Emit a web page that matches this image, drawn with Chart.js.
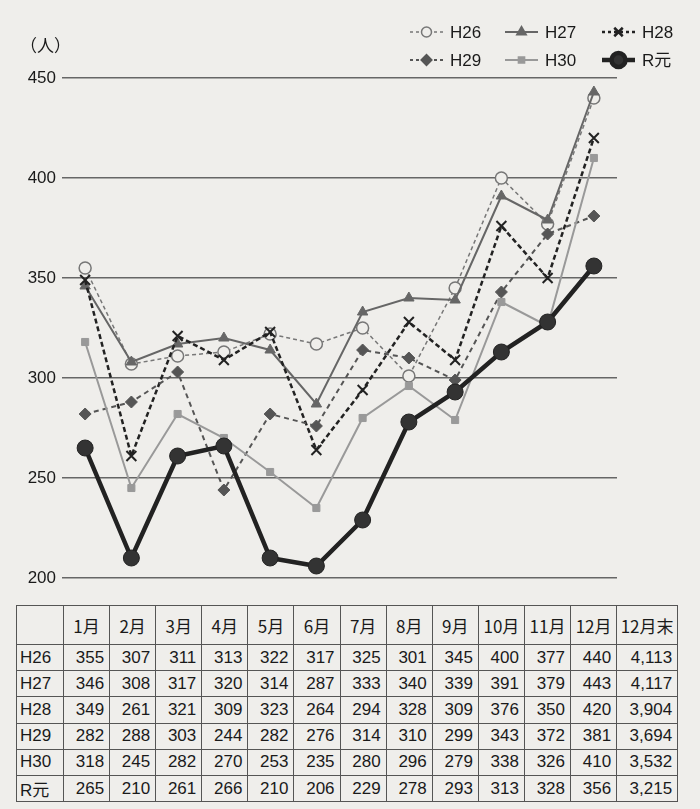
<!DOCTYPE html>
<html>
<head>
<meta charset="utf-8">
<script src="https://cdn.jsdelivr.net/npm/chart.js@4"></script>
<style>
  body { margin: 0; background: #efeeeb; }
  #wrap { position: relative; width: 700px; height: 809px; }
  #chartBox { position: absolute; left: 0; top: 0; width: 700px; height: 605px; }
  #dataTable {
    position: absolute; left: 16px; top: 605px;
    border-collapse: collapse; table-layout: fixed;
    font-family: "Liberation Sans", Arial, sans-serif; font-size: 17px; color: #1a1a1a;
  }
  #dataTable td, #dataTable th {
    border: 1.5px solid #555; padding: 0 5px 0 3px; white-space: nowrap; overflow: hidden;
  }
  #dataTable th { height: 38px; font-weight: normal; text-align: center; padding: 0; font-family: "Noto Sans CJK JP", "Liberation Sans", sans-serif; }
  #dataTable td { height: 25.2px; text-align: right; }
  #dataTable td.lab { text-align: left; padding-left: 3px; font-family: "Liberation Sans", "Noto Sans CJK JP", sans-serif; }
</style>
</head>
<body>
<div id="wrap">
  <div id="chartBox"><canvas id="myChart"></canvas></div>
  <table id="dataTable"></table>
</div>
<script>
// 月
const months = ['1月', '2月', '3月', '4月', '5月', '6月', '7月', '8月', '9月', '10月', '11月', '12月'];
// 年ごとの値
const h26 = [355, 307, 311, 313, 322, 317, 325, 301, 345, 400, 377, 440];
const h27 = [346, 308, 317, 320, 314, 287, 333, 340, 339, 391, 379, 443];
const h28 = [349, 261, 321, 309, 323, 264, 294, 328, 309, 376, 350, 420];
const h29 = [282, 288, 303, 244, 282, 276, 314, 310, 299, 343, 372, 381];
const h30 = [318, 245, 282, 270, 253, 235, 280, 296, 279, 338, 326, 410];
const r1  = [265, 210, 261, 266, 210, 206, 229, 278, 293, 313, 328, 356];
// 12月末の累計
const yearTotals = ['4,113', '4,117', '3,904', '3,694', '3,532', '3,215'];
const seriesNames = ['H26', 'H27', 'H28', 'H29', 'H30', 'R元'];
const seriesData = [h26, h27, h28, h29, h30, r1];
// 縦軸の目盛り
const yTicks = [200, 250, 300, 350, 400, 450];

const bg = '#efeeeb';

// 系列ごとの見た目
const styles = [
    { color: '#777', width: 1.5, dash: [4, 3], point: 'circle', radius: 6, fill: bg, pbw: 1.5 },
    { color: '#666', width: 2, dash: [], point: 'triangle', radius: 6, fill: '#666', pbw: 1 },
    { color: '#222', width: 2.5, dash: [5, 3], point: 'crossRot', radius: 7, fill: '#222', pbw: 2 },
    { color: '#555', width: 2, dash: [5, 4], point: 'rectRot', radius: 6, fill: '#555', pbw: 1 },
    { color: '#999', width: 2, dash: [], point: 'rect', radius: 5, fill: '#999', pbw: 1 },
    { color: '#222', width: 4.5, dash: [], point: 'circle', radius: 8, fill: '#333', pbw: 1 }
];

const datasets = seriesNames.map((name, i) => ({
    label: name,
    data: seriesData[i],
    borderColor: styles[i].color,
    borderWidth: styles[i].width,
    borderDash: styles[i].dash,
    pointStyle: styles[i].point,
    pointRadius: styles[i].radius,
    pointBackgroundColor: styles[i].fill,
    pointBorderColor: styles[i].color,
    pointBorderWidth: styles[i].pbw,
    tension: 0,
    fill: false,
    order: seriesNames.length - i
}));

// 凡例と単位を描く
const legendPlugin = {
    id: 'customLegend',
    afterDraw(chart) {
        const ctx = chart.ctx;
        const colX = [410, 505, 602];
        const rowY = [32, 60];
        ctx.save();
        seriesNames.forEach((name, i) => {
            const s = styles[i];
            const x = colX[i % 3];
            const y = rowY[Math.floor(i / 3)];
            ctx.strokeStyle = s.color;
            ctx.lineWidth = s.width;
            ctx.setLineDash(s.dash.length ? [3, 3] : []);
            ctx.beginPath();
            ctx.moveTo(x, y);
            ctx.lineTo(x + 33, y);
            ctx.stroke();
            ctx.setLineDash([]);
            ctx.fillStyle = s.fill;
            ctx.strokeStyle = s.color;
            Chart.helpers.drawPoint(ctx, {
                pointStyle: s.point,
                radius: s.radius - 1,
                rotation: 0,
                borderWidth: s.pbw
            }, x + 16.5, y);
            ctx.fillStyle = '#1a1a1a';
            ctx.font = '17px "Liberation Sans", "Noto Sans CJK JP", sans-serif';
            ctx.textAlign = 'left';
            ctx.textBaseline = 'middle';
            ctx.fillText(name, x + 40, y + 1);
        });
        ctx.font = '17px "Noto Sans CJK JP", sans-serif';
        ctx.fillStyle = '#1a1a1a';
        ctx.textAlign = 'left';
        ctx.textBaseline = 'middle';
        ctx.fillText('（人）', 20, 46);
        ctx.restore();
    }
};

const ctx = document.getElementById('myChart').getContext('2d');
new Chart(ctx, {
    type: 'line',
    data: { labels: months, datasets: datasets },
    plugins: [legendPlugin],
    options: {
        responsive: true,
        maintainAspectRatio: false,
        animation: false,
        layout: { padding: { top: 78, right: 83, bottom: 27, left: 0 } },
        plugins: {
            legend: { display: false },
            tooltip: { enabled: false }
        },
        scales: {
            x: {
                type: 'category',
                offset: true,
                display: false
            },
            y: {
                min: 200,
                max: 450,
                afterFit(scale) { scale.width = 62; },
                afterBuildTicks(scale) { scale.ticks = yTicks.map(v => ({ value: v })); },
                border: { display: false },
                grid: { color: '#666', lineWidth: 1.5, drawTicks: false },
                ticks: {
                    padding: 6,
                    color: '#1a1a1a',
                    font: { family: '"Liberation Sans", Arial, sans-serif', size: 17 }
                }
            }
        }
    }
});

// 表を作る
const table = document.getElementById('dataTable');
const colWidths = [47].concat(months.map(() => 46.1)).concat([61]);
const colgroup = document.createElement('colgroup');
colWidths.forEach(w => {
    const c = document.createElement('col');
    c.style.width = w + 'px';
    colgroup.appendChild(c);
});
table.appendChild(colgroup);
let head = '<tr><th></th>' + months.map(m => '<th>' + m + '</th>').join('') + '<th>12月末</th></tr>';
let body = seriesNames.map((name, i) =>
    '<tr><td class="lab">' + name + '</td>' +
    seriesData[i].map(v => '<td>' + v + '</td>').join('') +
    '<td>' + yearTotals[i] + '</td></tr>'
).join('');
table.innerHTML += head + body;
</script>
</body>
</html>
